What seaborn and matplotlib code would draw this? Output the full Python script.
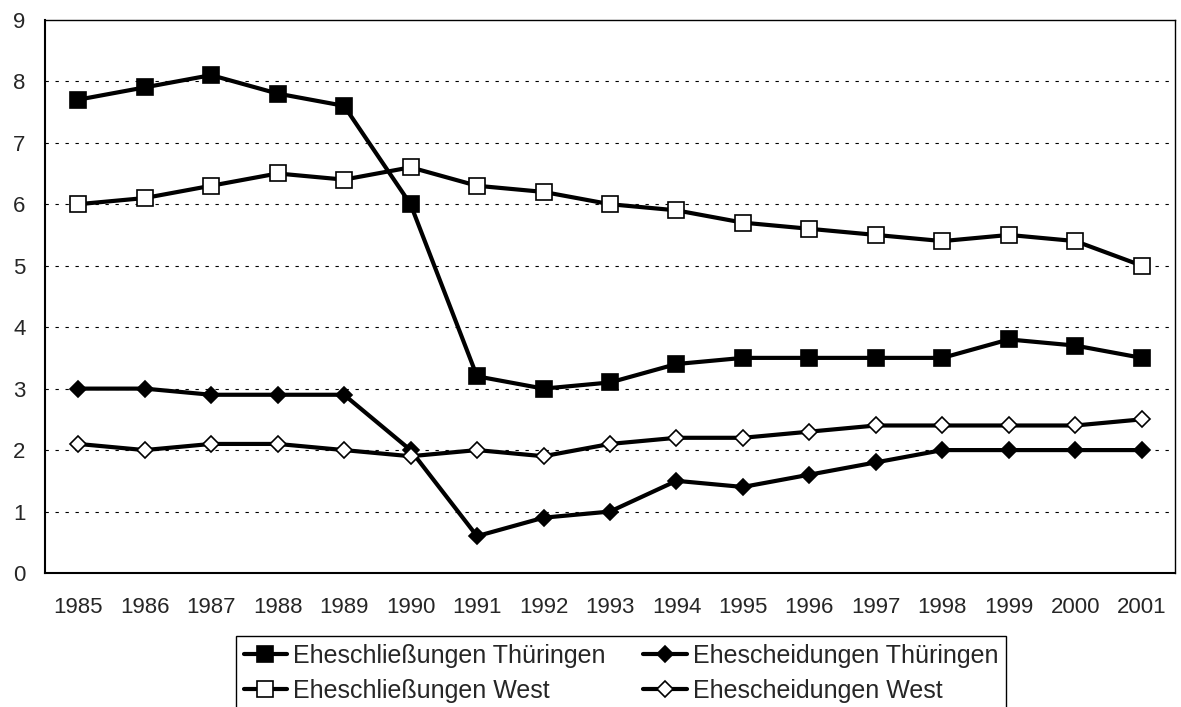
import matplotlib
matplotlib.use("Agg")
import matplotlib.pyplot as plt
import seaborn as sns
import numpy as np
import pandas as pd

years = [str(y) for y in range(1985, 2002)]
heirat_thueringen = [7.7, 7.9, 8.1, 7.8, 7.6, 6.0, 3.2, 3.0, 3.1, 3.4, 3.5, 3.5, 3.5, 3.5, 3.8, 3.7, 3.5]
scheidung_thueringen = [3.0, 3.0, 2.9, 2.9, 2.9, 2.0, 0.6, 0.9, 1.0, 1.5, 1.4, 1.6, 1.8, 2.0, 2.0, 2.0, 2.0]
heirat_west = [6.0, 6.1, 6.3, 6.5, 6.4, 6.6, 6.3, 6.2, 6.0, 5.9, 5.7, 5.6, 5.5, 5.4, 5.5, 5.4, 5.0]
scheidung_west = [2.1, 2.0, 2.1, 2.1, 2.0, 1.9, 2.0, 1.9, 2.1, 2.2, 2.2, 2.3, 2.4, 2.4, 2.4, 2.4, 2.5]

series = [
    ("Eheschließungen Thüringen", heirat_thueringen, "s", "black", 11),
    ("Ehescheidungen Thüringen", scheidung_thueringen, "D", "black", 8),
    ("Eheschließungen West", heirat_west, "s", "white", 11),
    ("Ehescheidungen West", scheidung_west, "D", "white", 8),
]

sns.set_style("white")
plt.rcParams['font.family'] = ['Liberation Sans', 'DejaVu Sans']

fig = plt.figure(figsize=(11.81, 7.07), dpi=100)
ax = fig.add_axes([0.038, 0.1895, 0.957, 0.7825])

x = np.arange(len(years))
for name, vals, mk, face, ms in series:
    df = pd.DataFrame({'x': x, 'y': vals})
    sns.lineplot(data=df, x='x', y='y', ax=ax, color='black', linewidth=3.0,
                 marker=mk, markersize=ms, markerfacecolor=face,
                 markeredgecolor='black', markeredgewidth=1.2, label=name)

ax.set_xlim(-0.5, len(years) - 0.5)
ax.set_ylim(0, 9)
ax.set_yticks(range(0, 10))
for yv in range(1, 9):
    ax.axhline(yv, color='black', linestyle=(0, (3, 6)), linewidth=0.8, zorder=0)

# ticks between categories, labels centred
ax.set_xticks(np.arange(-0.5, len(years), 1.0))
ax.set_xticklabels([])
ax.set_xticks(x, minor=True)
ax.set_xticklabels(years, minor=True)
ax.tick_params(axis='x', which='major', direction='out', length=4.5, width=1, color='black')
ax.tick_params(axis='x', which='minor', length=0, pad=17, labelsize=16)
ax.tick_params(axis='y', direction='out', length=6, width=1, color='black', labelsize=16, pad=8)
ax.set_xlabel('')
ax.set_ylabel('')

for side in ['left', 'bottom', 'top', 'right']:
    ax.spines[side].set_visible(True)
    ax.spines[side].set_color('black')
ax.spines['left'].set_linewidth(1.5)
ax.spines['bottom'].set_linewidth(1.5)
ax.spines['top'].set_linewidth(1.0)
ax.spines['right'].set_linewidth(1.0)

handles, labels = ax.get_legend_handles_labels()
ax.get_legend().remove()
order = [0, 2, 1, 3]
leg = fig.legend([handles[i] for i in order], [labels[i] for i in order], ncol=2,
                 loc='upper left', bbox_to_anchor=(236 / 1181, 1 - 636 / 707), fontsize=18,
                 frameon=True, fancybox=False, edgecolor='black', framealpha=1,
                 handlelength=1.75, handletextpad=0.24, columnspacing=1.5,
                 labelspacing=0.45, borderpad=0.3, borderaxespad=0)
leg.get_frame().set_linewidth(1.0)

fig.savefig('out.png', dpi=100)
